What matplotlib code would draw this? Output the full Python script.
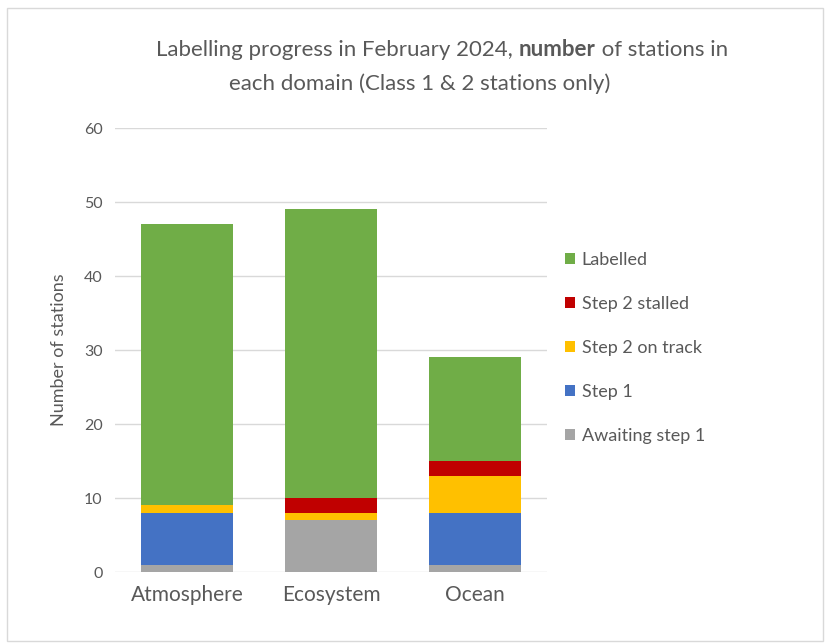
import numpy as np
import matplotlib.pyplot as plt
from matplotlib.patches import Rectangle

plt.rcParams['font.family'] = ['Lato', 'DejaVu Sans']

domains = ["Atmosphere", "Ecosystem", "Ocean"]
awaiting = [1, 7, 1]
step1 = [7, 0, 7]
step2_track = [1, 1, 5]
step2_stalled = [0, 2, 2]
labelled = [38, 39, 14]

series = [("Awaiting step 1", awaiting, "#a5a5a5"),
          ("Step 1", step1, "#4472c4"),
          ("Step 2 on track", step2_track, "#ffc000"),
          ("Step 2 stalled", step2_stalled, "#c00000"),
          ("Labelled", labelled, "#70ad47")]

txt = "#595959"
fig = plt.figure(figsize=(8.3, 6.44), dpi=100)
fig.patches.append(Rectangle((0.009, 0.004), 0.982, 0.984, transform=fig.transFigure,
                             fill=False, edgecolor="#d9d9d9", linewidth=1))
ax = fig.add_axes([0.1386, 0.1118, 0.5205, 0.6894])

x = np.arange(len(domains))
bottom = np.zeros(len(domains))
handles = []
for name, vals, col in series:
    h = ax.bar(x, vals, 0.64, bottom=bottom, color=col, label=name, zorder=3)
    handles.append(h)
    bottom += np.array(vals)

ax.set_xlim(-0.5, 2.5)
ax.set_ylim(0, 60)
ax.set_yticks(range(0, 61, 10))
ax.yaxis.grid(True, color="#d9d9d9", linewidth=1, zorder=0)
for s in ax.spines.values():
    s.set_visible(False)
ax.tick_params(axis="both", length=0)
ax.tick_params(axis="y", labelsize=11.5, labelcolor=txt, pad=9)
ax.tick_params(axis="x", labelsize=15, labelcolor=txt, pad=9)
ax.set_xticks(x)
ax.set_xticklabels(domains)
ax.set_ylabel("Number of stations", fontsize=13, color=txt, labelpad=12)

leg = ax.legend(handles[::-1], [s[0] for s in series][::-1], loc="center left",
                bbox_to_anchor=(1.005, 0.505), frameon=False, fontsize=13,
                labelspacing=1.55, handlelength=0.55, handleheight=0.55,
                handletextpad=0.35, labelcolor=txt)

# title with bold word
fig.canvas.draw()
r = fig.canvas.get_renderer()
def line(parts, y, cx):
    ts = [fig.text(0, y, p, fontsize=16, color=txt, fontweight=w, va="baseline") for p, w in parts]
    ws = [t.get_window_extent(r).width for t in ts]
    start = cx - sum(ws) / 2
    for t, w in zip(ts, ws):
        t.set_x(start / fig.bbox.width)
        start += w
line([("Labelling progress in February 2024, ", "normal"), ("number", "bold"),
      (" of stations in", "normal")], 1 - 56 / 644, 442)
line([("each domain (Class 1 & 2 stations only)", "normal")], 1 - 90 / 644, 420)

fig.savefig("out.png", dpi=100)
